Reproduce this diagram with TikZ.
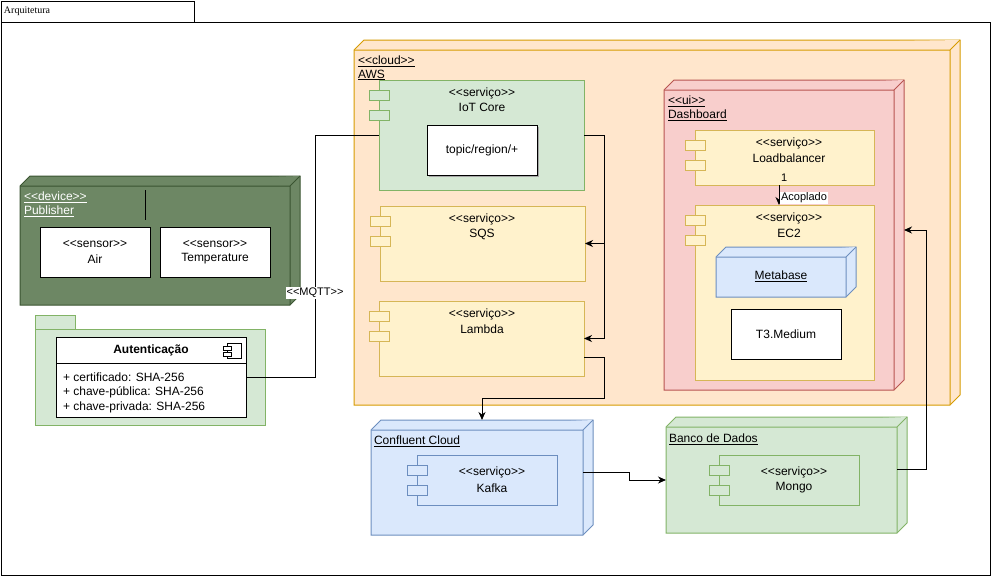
\documentclass[tikz,border=0pt]{standalone}
\usepackage{fontspec}
\setmainfont{Liberation Sans}
\newfontfamily\frameserif{Liberation Serif}
\usetikzlibrary{arrows.meta,calc}
\definecolor{awsF}{HTML}{FFE6CC}\definecolor{awsD}{HTML}{D79B00}
\definecolor{grnF}{HTML}{D5E8D4}\definecolor{grnD}{HTML}{82B366}
\definecolor{ylwF}{HTML}{FFF2CC}\definecolor{ylwD}{HTML}{D6B656}
\definecolor{redF}{HTML}{F8CECC}\definecolor{redD}{HTML}{B85450}
\definecolor{bluF}{HTML}{DAE8FC}\definecolor{bluD}{HTML}{6C8EBF}
\definecolor{devF}{HTML}{6D8764}\definecolor{devD}{HTML}{3A5431}
\newcommand\fsz[1]{\fontsize{#1}{#1}\selectfont}
\newcommand\st[1]{<{}<#1>{}>}
% box node: style, name, x1, y1, x2, y2
\newcommand\bx[6]{\node[#1,minimum width={(#5)-(#3)},minimum height={(#6)-(#4)},anchor=north west] (#2) at (#3,#4) {};}
% 3d node: name, x1, y1, x2, y2, style
\newcommand\threed[6]{%
 \filldraw[#6,line join=miter] (#2,#3+10) -- (#2+10,#3) -- (#4,#3) -- (#4,#5-10) -- (#4-10,#5) -- (#2,#5) -- cycle;
 \draw[#6] (#2,#3+10) -- (#4-10,#3+10) -- (#4,#3) (#4-10,#3+10) -- (#4-10,#5);
 \bx{}{#1}{#2}{#3+10}{#4-10}{#5}
 \bx{}{#1-b}{#2}{#3}{#4}{#5}}
% component: name, x1, y1, x2, y2, style
\newcommand\comp[6]{%
 \bx{#6,draw}{#1}{#2}{#3}{#4}{#5}
 \filldraw[#6] (#2-10,#3+10) rectangle (#2+10,#3+20) (#2-10,#3+30) rectangle (#2+10,#3+40);}
\begin{document}
\begin{tikzpicture}[x=1pt,y=-1pt,line width=1pt,
  every node/.style={inner sep=0pt,outer sep=0pt,font=\fsz{12}},
  aws/.style={fill=awsF,draw=awsD},
  grn/.style={fill=grnF,draw=grnD},
  ylw/.style={fill=ylwF,draw=ylwD},
  red/.style={fill=redF,draw=redD},
  blu/.style={fill=bluF,draw=bluD},
  dev/.style={fill=devF,draw=devD},
  plain/.style={fill=white,draw=black},
  arr/.style={-{Stealth[length=8pt,width=7pt,inset=2.5pt]}},
  lbl/.style={anchor=west,font=\fsz{12}},
  sm/.style={font=\fsz{11}}]
\useasboundingbox (0,0) rectangle (991,576);
\fill[white] (0,0) rectangle (991,576);
% frame
\bx{draw}{frame}{1}{22}{990}{575}
\bx{draw}{tab}{1}{1}{194}{22}
\node[anchor=west,font=\frameserif\fsz{10}] at (4,11) {Arquitetura};

% device
\threed{dev}{20}{176}{300}{305}{dev}
\node[lbl,text=white] at (24,197) {\underline{\st{device}}};
\node[lbl,text=white] at (24,211) {\underline{Publisher}};
\draw (145,190) -- (145,220);
\bx{plain}{air}{40}{227}{150}{277}
\node at (95,244) {\st{sensor}};
\node at (95,259) {Air};
\bx{plain}{temp}{160}{227}{270}{277}
\node at (215,244) {\st{sensor}};
\node at (215,259) {Temperature};

% auth package
\filldraw[grn] (35,315) rectangle (75,329);
\bx{grn}{pkg}{35}{329}{265}{425}
\bx{plain}{authcls}{56}{337}{246}{417}
\draw (56,363) -- (246,363);
\node[font=\bfseries\fsz{12}] at (151,350) {Autenticação};
\filldraw[plain,line width=0.8pt] (227,343) rectangle (241,358);
\filldraw[plain,line width=0.8pt] (223,346) rectangle (231,350) (223,352) rectangle (231,356);
\node[lbl] at (63,377) {+ certificado: SHA-256};
\node[lbl] at (63,392) {+ chave-pública: SHA-256};
\node[lbl] at (63,407) {+ chave-privada: SHA-256};

% AWS
\threed{aws}{354}{40}{960}{405}{aws}
\node[lbl] at (358,61) {\underline{\st{cloud}}};
\node[lbl] at (358,75) {\underline{AWS}};

\comp{iot}{379}{80}{584}{190}{grn}
\node at (482,93) {\st{serviço}};
\node at (482,107) {IoT Core};
\fill[black!35] (429,127) rectangle (539,177);
\bx{plain}{topic}{427}{125}{537}{175}
\node at (482,150) {topic/region/+};

\comp{sqs}{380}{206}{585}{281}{ylw}
\node at (482,219) {\st{serviço}};
\node at (482,234) {SQS};

\comp{lambda}{379}{301}{584}{376}{ylw}
\node at (482,314) {\st{serviço}};
\node at (482,329) {Lambda};

% Dashboard
\threed{dash}{664}{80}{904}{390}{red}
\node[lbl] at (668,101) {\underline{\st{ui}}};
\node[lbl] at (668,115) {\underline{Dashboard}};
\comp{lb}{695}{130}{874}{185}{ylw}
\node at (789,143) {\st{serviço}};
\node at (789,158) {Loadbalancer};
\comp{ec2}{695}{205}{874}{380}{ylw}
\node at (789,218) {\st{serviço}};
\node at (789,233) {EC2};
\threed{meta}{716}{247}{856}{297}{blu}
\node at (781,276) {\underline{Metabase}};
\bx{plain}{t3}{731}{309}{841}{359}
\node at (786,334) {T3.Medium};

% Confluent
\threed{conf}{371}{420}{593}{535}{blu}
\node[lbl] at (374,441) {\underline{Confluent Cloud}};
\comp{kafka}{417}{455}{557}{505}{blu}
\node at (492,472) {\st{serviço}};
\node at (492,488) {Kafka};

% Banco
\threed{banco}{666}{417}{907}{533}{grn}
\node[lbl] at (669,439) {\underline{Banco de Dados}};
\comp{mongo}{719}{455}{859}{505}{grn}
\node at (794,472) {\st{serviço}};
\node at (794,488) {Mongo};

% connectors
\draw (authcls.east) -- ++(69,0) |- (iot.west);
\node[fill=white,sm,inner sep=1pt] at (315,293) {\st{MQTT}};
\draw[arr] (iot.east) -- ++(20,0) |- (sqs.east);
\draw[arr] (iot.east) -- ++(20,0) |- (lambda.east);
\draw[arr] ([yshift=-18.5pt]lambda.east) -- ++(20,0) |- ($(conf-b.north)+(0,-22)$) -- (conf-b.north);
\draw[arr] ([yshift=10pt]conf.east) -- ++(46,0) |- ([yshift=-5pt]banco-b.west);
\draw[arr] ([yshift=11pt]banco.east) -- ++(29,0) |- ([yshift=5pt]dash-b.east);
\draw[arr] ([xshift=-5.5pt]lb.south) -- ([xshift=-5.5pt]ec2.north);
\node[sm,anchor=west] at (781,178) {1};
\node[sm,fill=white,inner sep=1pt] at (804,198) {Acoplado};
\end{tikzpicture}
\end{document}
